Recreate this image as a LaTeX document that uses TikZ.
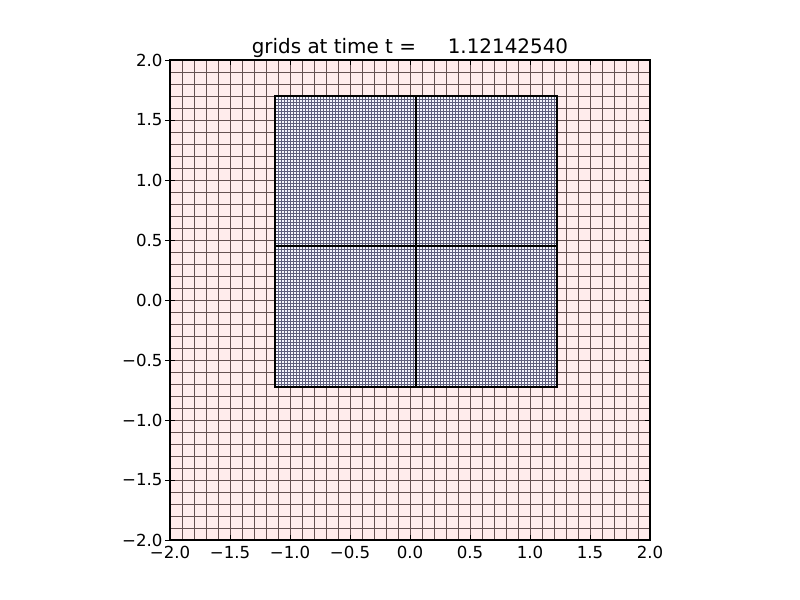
\documentclass[tikz,border=0pt]{standalone}
\usepackage{fontspec}
\setmainfont{DejaVu Sans}
\definecolor{coarsefill}{RGB}{255,236,236}
\definecolor{coarseline}{RGB}{100,80,80}
\definecolor{finefill}{RGB}{245,245,252}
\definecolor{fineline}{RGB}{95,95,125}
\tikzset{
  ticklabel/.style={font=\fontsize{12}{14}\selectfont, inner sep=0pt},
  patchedge/.style={draw=black, line width=1.3pt},
  tickmark/.style={black, line width=0.6pt},
}
\begin{document}
\begin{tikzpicture}[x=1.2in,y=1.2in]
\useasboundingbox (-3.4167,-2.5) rectangle (3.25,2.5);

\fill[coarsefill] (-2,-2) rectangle (2,2);
\draw[coarseline, line width=0.5pt, step=0.1] (-2,-2) grid (2,2);

\foreach \xa/\xb in {-1.125/0.05, 0.05/1.225} {
  \foreach \ya/\yb in {-0.725/0.45, 0.45/1.7} {
    \fill[finefill] (\xa,\ya) rectangle (\xb,\yb);
    \draw[fineline, line width=0.28pt, step=0.025] (\xa,\ya) grid (\xb,\yb);
    \draw[patchedge] (\xa,\ya) rectangle (\xb,\yb);
  }
}

\draw[black, line width=0.8pt] (-2,-2) rectangle (2,2);

\foreach \v/\t [count=\k] in {-2/−2.0, -1.5/−1.5, -1/−1.0, -0.5/−0.5, 0/0.0, 0.5/0.5, 1/1.0, 1.5/1.5, 2/2.0} {
  \draw[tickmark] (\v,-2) -- (\v,-1.96);
  \draw[tickmark] (\v,2) -- (\v,1.96);
  \draw[tickmark] (-2.04,\v) -- (-1.96,\v);
  \draw[tickmark] (2,\v) -- (1.96,\v);
  \node[ticklabel, anchor=base] (xl\k) at (\v,-2.15) {\t};
  \node[ticklabel, anchor=east] (yl\k) at (-2.06,\v) {\t};
}

\node[font=\fontsize{14.4}{17}\selectfont, inner sep=0pt, anchor=base] (title) at (0,2.058)
  {grids at time t =\hspace{1.59em}1.12142540};
\end{tikzpicture}
\end{document}
